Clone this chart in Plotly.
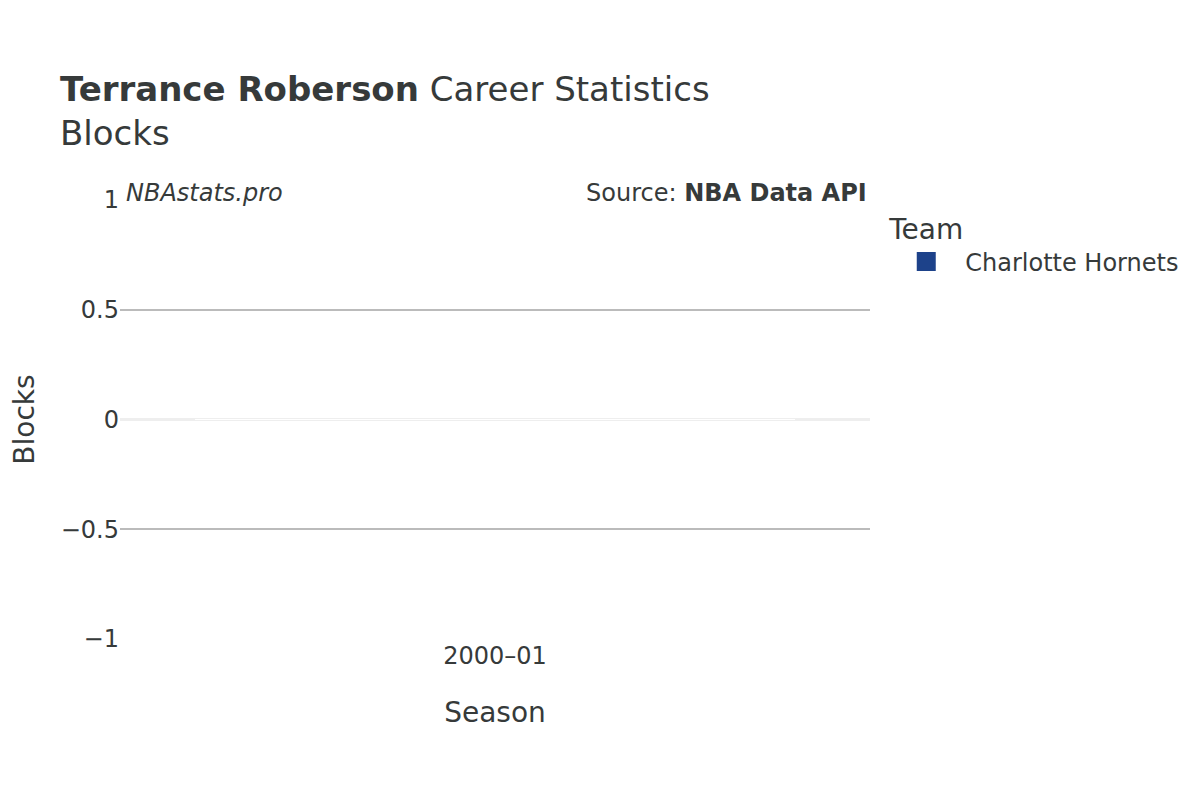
import plotly.graph_objects as go

seasons = ["2000–01"]
blocks = [0]
team = "Charlotte Hornets"
team_color = "#1d428a"

font = "DejaVu Sans"
txt = "#363a3a"

fig = go.Figure()
fig.add_trace(go.Bar(
    x=seasons, y=blocks, name=team, showlegend=False,
    marker=dict(color=team_color, line=dict(color="white", width=1)),
))
# legend entry with a larger swatch
fig.add_trace(go.Scatter(
    x=[None], y=[None], mode="markers", name=team,
    marker=dict(symbol="square", size=22, color=team_color,
                line=dict(color=team_color, width=3)),
))

fig.update_layout(
    width=1200, height=800,
    paper_bgcolor="white", plot_bgcolor="white",
    font=dict(family=font, color=txt, size=24),
    title=dict(
        text="<b>Terrance Roberson</b> Career Statistics<br>Blocks",
        x=0.0433, xanchor="left", y=0.884, yanchor="top",
        font=dict(size=34, color=txt),
    ),
    margin=dict(l=112, r=338, t=192, b=169),
    legend=dict(
        title=dict(text="Team", font=dict(size=28)),
        font=dict(size=24), x=1.023, y=0.993, yanchor="top",
        itemwidth=68,
    ),
    xaxis=dict(title=dict(text="Season", font=dict(size=28), standoff=33),
               showgrid=False, tickfont=dict(size=24)),
    yaxis=dict(
        title=dict(text="Blocks", font=dict(size=28), standoff=28),
        automargin=False,
        range=[-1, 1], dtick=0.5, tickfont=dict(size=24),
        gridcolor="#bbbbbb", gridwidth=1.5,
        zeroline=True, zerolinecolor="#eeeeee", zerolinewidth=3,
    ),
    annotations=[
        dict(text="<i>NBAstats.pro</i>", xref="paper", yref="paper", x=0.005, y=1.016,
             xanchor="left", yanchor="middle", showarrow=False, font=dict(size=24)),
        dict(text="Source: <b>NBA Data API</b>", xref="paper", yref="paper", x=0.999, y=1.016,
             xanchor="right", yanchor="middle", showarrow=False, font=dict(size=24)),
    ],
)

fig.write_html("out.html")
